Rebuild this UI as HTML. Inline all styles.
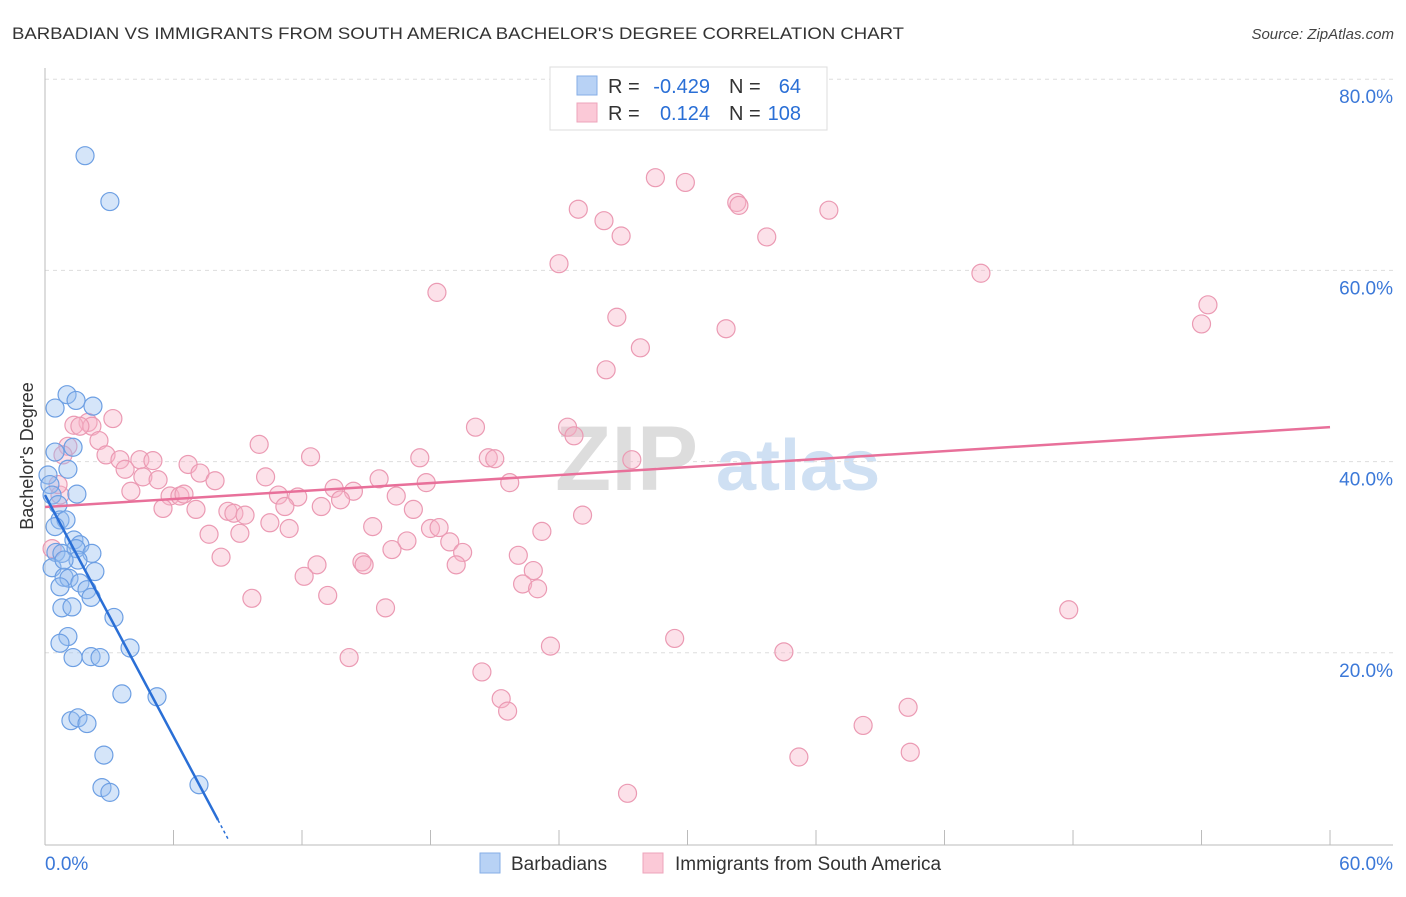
<!DOCTYPE html>
<html><head><meta charset="utf-8"><style>
body{margin:0;background:#fff;font-family:"Liberation Sans",sans-serif;}
svg text{font-family:"Liberation Sans",sans-serif;}
</style></head><body>
<svg id="chart" width="1406" height="892" xmlns="http://www.w3.org/2000/svg">
<text x="12" y="39" font-size="17" fill="#333" textLength="892" lengthAdjust="spacingAndGlyphs">BARBADIAN VS IMMIGRANTS FROM SOUTH AMERICA BACHELOR'S DEGREE CORRELATION CHART</text>
<text x="1394" y="39" font-size="15" fill="#444" text-anchor="end" font-style="italic">Source: ZipAtlas.com</text>
<g>
<text x="555" y="490" font-size="92" fill="#ddd" font-family="Liberation Serif" font-weight="bold">ZIP</text>
<text x="716" y="490" font-size="72" fill="#cfe0f3" font-weight="bold">atlas</text>
</g>
<g id="grid"></g>
<g id="axes"></g>
<g id="marks"></g>
<text transform="translate(33,456) rotate(-90)" font-size="18" fill="#333" text-anchor="middle">Bachelor's Degree</text>
<g font-size="20">
<rect x="550" y="67" width="277" height="63" fill="#fff" stroke="#ddd"/>
<rect x="577" y="76" width="20" height="19" fill="#b8d2f5" stroke="#86aee6"/>
<rect x="577" y="103" width="20" height="19" fill="#fbc9d7" stroke="#eea4bb"/>
<text x="608" y="93" fill="#333">R =</text>
<text x="710" y="93" fill="#2a6fd6" text-anchor="end">-0.429</text>
<text x="729" y="93" fill="#333">N =</text>
<text x="801" y="93" fill="#2a6fd6" text-anchor="end">64</text>
<text x="608" y="120" fill="#333">R =</text>
<text x="710" y="120" fill="#2a6fd6" text-anchor="end">0.124</text>
<text x="729" y="120" fill="#333">N =</text>
<text x="801" y="120" fill="#2a6fd6" text-anchor="end">108</text>
</g>
<g>
<rect x="480" y="853" width="20" height="20" fill="#b8d2f5" stroke="#86aee6"/>
<text x="511" y="870" font-size="19" fill="#333">Barbadians</text>
<rect x="643" y="853" width="20" height="20" fill="#fbc9d7" stroke="#eea4bb"/>
<text x="675" y="870" font-size="19" fill="#333">Immigrants from South America</text>
</g>
</svg>
<script>
const blueX=[1.87,3.03,1.03,0.47,1.45,2.24,0.47,1.31,1.07,0.14,0.23,0.33,1.49,0.61,0.70,0.98,0.47,1.35,1.63,0.51,0.79,1.45,2.19,1.54,0.33,0.89,1.12,2.33,1.63,1.96,2.15,0.79,1.26,3.22,1.07,0.70,3.97,1.31,2.15,2.57,3.59,5.23,1.21,1.54,1.96,2.75,2.66,3.03,7.19,0.89,0.70];
const blueY=[72.0,67.2,47.0,45.6,46.4,45.8,41.0,41.5,39.2,38.6,37.6,36.5,36.6,35.5,33.9,33.9,33.2,31.8,31.3,30.5,30.4,30.9,30.4,29.7,28.9,27.9,27.8,28.5,27.3,26.6,25.8,24.7,24.8,23.7,21.7,21.0,20.5,19.5,19.6,19.5,15.7,15.4,12.9,13.2,12.6,9.3,5.9,5.4,6.2,29.7,26.9];
const pinkX=[28.5,29.9,32.3,32.4,24.9,36.6,26.1,26.9,33.7,24.0,43.7,18.3,54.3,26.7,54.0,31.8,27.8,26.2,3.17,2.01,1.35,2.19,1.63,20.1,24.4,24.7,1.07,2.52,10.0,0.84,2.85,12.4,17.5,20.7,21.0,27.4,3.50,4.43,5.04,3.74,6.68,7.24,4.57,5.28,7.94,10.3,15.6,17.8,21.7,13.5,14.4,4.01,5.84,6.30,6.49,10.9,11.8,16.4,13.8,0.70,0.61,5.51,7.05,12.9,11.2,17.2,8.54,8.82,9.34,25.1,10.5,11.4,15.3,18.0,18.4,23.2,7.66,9.10,16.9,18.9,16.2,19.5,22.1,0.33,8.22,14.8,14.9,19.2,12.7,22.8,12.1,22.3,23.0,13.2,9.66,15.9,47.8,29.4,23.6,34.5,14.2,20.4,21.3,21.6,40.3,38.2,40.4,35.2,27.2];
const pinkY=[69.7,69.2,67.1,66.8,66.4,66.3,65.2,63.6,63.5,60.7,59.7,57.7,56.4,55.1,54.4,53.9,51.9,49.6,44.5,44.1,43.8,43.7,43.7,43.6,43.6,42.7,41.6,42.2,41.8,40.7,40.7,40.5,40.4,40.4,40.3,40.2,40.2,40.2,40.1,39.2,39.7,38.8,38.4,38.1,38.0,38.4,38.2,37.8,37.8,37.2,36.9,36.9,36.4,36.4,36.6,36.5,36.3,36.4,36.0,36.5,37.6,35.1,35.0,35.3,35.3,35.0,34.8,34.6,34.4,34.4,33.6,33.0,33.2,33.0,33.1,32.7,32.4,32.5,31.7,31.6,30.8,30.5,30.2,30.9,30.0,29.5,29.2,29.2,29.2,28.6,28.0,27.2,26.7,26.0,25.7,24.7,24.5,21.5,20.7,20.1,19.5,18.0,15.2,13.9,14.3,12.4,9.6,9.1,5.3];
const yTicks=[20,40,60,80];
const yTickLabels=["20.0%","40.0%","60.0%","80.0%"];
const blueTrend=[[0,36.5],[8.08,2.5],[8.6,0.3]];
const pinkTrend=[[0,35.25],[60,43.6]];
const NS="http://www.w3.org/2000/svg";
const sx=v=>45+v*21.417, sy=v=>844-v*9.56;
function mk(tag,attrs,parent){const e=document.createElementNS(NS,tag);for(const k in attrs)e.setAttribute(k,attrs[k]);parent.appendChild(e);return e;}
const grid=document.getElementById('grid'),axes=document.getElementById('axes'),marks=document.getElementById('marks');
yTicks.forEach((t,i)=>{
 const l=mk('line',{x1:45,x2:1393,y1:sy(t),y2:sy(t),stroke:'#ddd','stroke-dasharray':'4,4'},grid);
 
 
 const tx=mk('text',{x:1393,y:sy(t)+24,'font-size':19,fill:'#3b78d8','text-anchor':'end'},axes);
 tx.textContent=yTickLabels[i];
 
 
});
const ax=mk('line',{x1:45,x2:45,y1:68,y2:845,stroke:'#bbb'},axes);


const bx=mk('line',{x1:45,x2:1393,y1:845,y2:845,stroke:'#bbb'},axes);


for(let i=0;i<=10;i++){const t=mk('line',{x1:sx(i*6),x2:sx(i*6),y1:830,y2:845,stroke:'#bbb'},axes);
 
 }
[[0,"0.0%",'start',45],[60,"60.0%",'end',1393]].forEach(d=>{const t=mk('text',{x:d[3],y:870,'font-size':19,fill:'#3b78d8','text-anchor':d[2]},axes);t.textContent=d[1];
 
 });
pinkX.forEach((x,i)=>{const c=mk('circle',{cx:sx(x),cy:sy(pinkY[i]),r:9,fill:'rgba(248,180,200,0.4)',stroke:'#eb9ab3','stroke-width':1.2},marks);
 
 });
blueX.forEach((x,i)=>{const c=mk('circle',{cx:sx(x),cy:sy(blueY[i]),r:9,fill:'rgba(150,190,240,0.4)',stroke:'#6d9fe3','stroke-width':1.2},marks);
 
 });
const pl=mk('line',{x1:sx(pinkTrend[0][0]),y1:sy(pinkTrend[0][1]),x2:sx(pinkTrend[1][0]),y2:sy(pinkTrend[1][1]),stroke:'#e8709a','stroke-width':2.5},marks);


const bl=mk('line',{x1:sx(blueTrend[0][0]),y1:sy(blueTrend[0][1]),x2:sx(blueTrend[1][0]),y2:sy(blueTrend[1][1]),stroke:'#2a6fd6','stroke-width':2.5},marks);


const bd=mk('line',{x1:sx(blueTrend[1][0]),y1:sy(blueTrend[1][1]),x2:sx(blueTrend[2][0]),y2:sy(blueTrend[2][1]),stroke:'#2a6fd6','stroke-width':1.5,'stroke-dasharray':'3,3'},marks);


</script>
</body></html>
